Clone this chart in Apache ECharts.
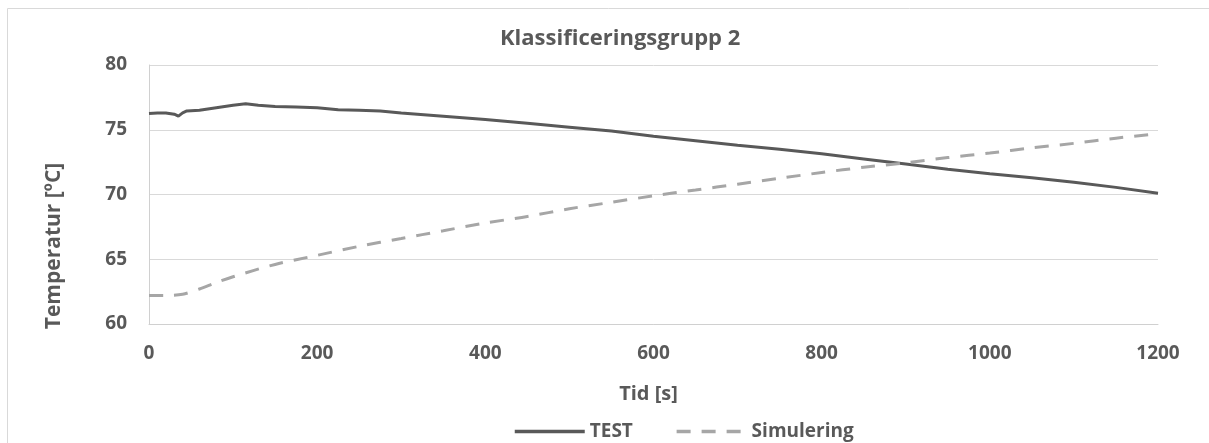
<!DOCTYPE html>
<html>
<head>
<meta charset="utf-8">
<script src="https://cdn.jsdelivr.net/npm/echarts@6/dist/echarts.min.js"></script>
<style>
  html, body { margin: 0; padding: 0; background: #fff; }
  #main { width: 1209px; height: 443px; }
</style>
</head>
<body>
<div id="main"></div>
<script>
// tid [s] och temperatur [ºC]
var testTid  = [0, 10, 20, 30, 35, 40, 45, 60, 80, 100, 115, 130, 150, 175, 200, 225, 250, 275, 300, 350,
                400, 450, 500, 550, 600, 650, 700, 750, 800, 850, 900, 950, 1000, 1050, 1100, 1150, 1200];
var testTemp = [76.25, 76.3, 76.3, 76.2, 76.05, 76.3, 76.45, 76.5, 76.7, 76.9, 77.0, 76.9, 76.8, 76.75, 76.7, 76.55, 76.5, 76.45, 76.3, 76.05,
                75.8, 75.5, 75.2, 74.9, 74.5, 74.15, 73.8, 73.5, 73.15, 72.75, 72.35, 71.95, 71.6, 71.3, 70.95, 70.55, 70.1];

var simTid  = [0, 20, 40, 60, 80, 100, 150, 200, 250, 300, 350, 400, 450, 500, 550, 600,
               650, 700, 750, 800, 850, 900, 950, 1000, 1050, 1100, 1150, 1200];
var simTemp = [62.2, 62.2, 62.3, 62.7, 63.2, 63.65, 64.6, 65.3, 66.0, 66.6, 67.2, 67.8, 68.3, 68.9, 69.4, 69.9,
               70.35, 70.8, 71.25, 71.7, 72.1, 72.45, 72.85, 73.2, 73.6, 73.95, 74.35, 74.7];

var xTicks = [0, 1200, 200];   // min, max, steg
var yTicks = [60, 80, 5];

function par(xs, ys) {
    var out = [];
    for (var i = 0; i < xs.length; i++) out.push([xs[i], ys[i]]);
    return out;
}

var textColor = '#595959';
var font = '"Open Sans", "Noto Sans", sans-serif';

var chart = echarts.init(document.getElementById('main'));
chart.setOption({
    animation: false,
    textStyle: { fontFamily: font },
    graphic: [{
        type: 'rect',
        shape: { x: 7.5, y: 8.5, width: 1220, height: 450 },
        style: { fill: 'none', stroke: '#D9D9D9', lineWidth: 1 },
        silent: true
    }],
    title: {
        text: 'Klassificeringsgrupp 2',
        left: 495,
        top: 23,
        textStyle: { color: textColor, fontSize: 22, fontWeight: 'bold', fontFamily: font }
    },
    grid: { left: 149, right: 51, top: 65, bottom: 119 },
    legend: {
        top: 417,
        left: 508,
        itemWidth: 70,
        itemHeight: 10,
        itemGap: 42,
        itemStyle: { opacity: 0 },
        lineStyle: { width: 3.5 },
        textStyle: { color: textColor, fontSize: 19, fontWeight: 'bold', fontFamily: font },
        data: ['TEST', 'Simulering']
    },
    xAxis: {
        type: 'value',
        min: xTicks[0], max: xTicks[1], interval: xTicks[2],
        name: 'Tid [s]',
        nameLocation: 'middle',
        nameGap: 60,
        nameTextStyle: { color: textColor, fontSize: 20, fontWeight: 'bold', padding: [0, 10, 0, 0] },
        axisLine: { show: true, lineStyle: { color: '#D0D0D0', width: 1 } },
        axisTick: { show: false },
        axisLabel: { color: textColor, fontSize: 19, fontWeight: 'bold', margin: 20,
                     formatter: function (v) { return String(v); } },
        splitLine: { show: false }
    },
    yAxis: {
        type: 'value',
        min: yTicks[0], max: yTicks[1], interval: yTicks[2],
        name: 'Temperatur [ºC]',
        nameLocation: 'middle',
        nameGap: 84,
        nameTextStyle: { color: textColor, fontSize: 21, fontWeight: 'bold', padding: [0, 103, 0, 0] },
        axisLine: { show: true, lineStyle: { color: '#D0D0D0', width: 1 } },
        axisTick: { show: false },
        axisLabel: { color: textColor, fontSize: 19, fontWeight: 'bold', margin: 22 },
        splitLine: { show: true, lineStyle: { color: '#D9D9D9', width: 1 } }
    },
    series: [
        {
            name: 'TEST',
            type: 'line',
            data: par(testTid, testTemp),
            showSymbol: false,
            symbol: 'none',
            lineStyle: { color: '#595959', width: 3 },
            itemStyle: { color: '#595959' }
        },
        {
            name: 'Simulering',
            type: 'line',
            data: par(simTid, simTemp),
            smooth: 0.3,
            showSymbol: false,
            symbol: 'none',
            lineStyle: { color: '#A6A6A6', width: 3, type: [14, 11] },
            itemStyle: { color: '#A6A6A6' }
        }
    ]
});
</script>
</body>
</html>
